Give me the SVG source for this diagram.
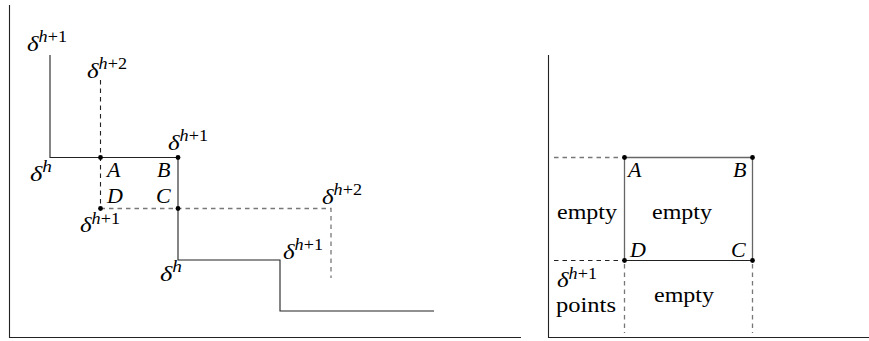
<svg xmlns="http://www.w3.org/2000/svg" width="869" height="341" viewBox="0 0 869 341">
<style>
text{font-family:"Liberation Serif","DejaVu Serif",serif;font-size:22px;fill:#000}
.i{font-style:italic}
.s{font-size:16px}
.si{font-size:16px;font-style:italic}
.ln{stroke:#222;stroke-width:1.1;fill:none}
.g{stroke:#666;stroke-width:1.3;fill:none}
.d{stroke:#222;stroke-width:1.1;stroke-dasharray:4.5,4;fill:none}
.dg{stroke:#777;stroke-width:1.3;stroke-dasharray:4.5,4;fill:none}
.ax{stroke:#222;stroke-width:1.1;fill:none}
</style>
<defs>
<circle id="dot" r="2.4" fill="#000"/>
</defs>
<rect width="869" height="341" fill="#fff"/>
<g id="connectors">
<path class="ax" d="M9.5,5 V337.5 H521"/>
<path class="ln" d="M50,55 V157.5 H178 V260 H280 V311 H434"/>
<path class="d" d="M100.5,80 V208.5"/>
<path class="dg" d="M100.5,208.5 H331 V278"/>
<path class="ax" d="M548.5,55 V337.5 H869"/>
<path class="dg" d="M554,157.5 H624"/>
<path class="d" d="M554,260.5 H624"/>
<path class="g" d="M624.5,260.5 V157.5 H752.5 V260.5"/>
<path class="ln" d="M624.5,260.5 H752.5"/>
<path class="dg" d="M624.5,264 V333"/>
<path class="dg" d="M752.5,264 V333"/>
</g>
<g id="node-A-left"><use href="#dot" x="100.5" y="157.5"/><text class="i" x="107" y="177">A</text></g>
<g id="node-B-left"><use href="#dot" x="178" y="157.5"/><text class="i" x="157" y="177">B</text></g>
<g id="node-C-left"><use href="#dot" x="178" y="208.5"/><text class="i" x="156" y="203">C</text></g>
<g id="node-D-left"><use href="#dot" x="100.5" y="208.5"/><text class="i" x="107" y="203">D</text></g>
<g id="labels-left">
<text x="27" y="51" textLength="40" lengthAdjust="spacingAndGlyphs"><tspan class="i">δ</tspan><tspan class="si" dy="-9">h</tspan><tspan class="s">+1</tspan></text>
<text x="87" y="78" textLength="40" lengthAdjust="spacingAndGlyphs"><tspan class="i">δ</tspan><tspan class="si" dy="-9">h</tspan><tspan class="s">+2</tspan></text>
<text x="30" y="181" textLength="22" lengthAdjust="spacingAndGlyphs"><tspan class="i">δ</tspan><tspan class="si" dy="-9">h</tspan></text>
<text x="168" y="150" textLength="40" lengthAdjust="spacingAndGlyphs"><tspan class="i">δ</tspan><tspan class="si" dy="-9">h</tspan><tspan class="s">+1</tspan></text>
<text x="80" y="232" textLength="40" lengthAdjust="spacingAndGlyphs"><tspan class="i">δ</tspan><tspan class="si" dy="-8">h</tspan><tspan class="s">+1</tspan></text>
<text x="322" y="204" textLength="40" lengthAdjust="spacingAndGlyphs"><tspan class="i">δ</tspan><tspan class="si" dy="-9">h</tspan><tspan class="s">+2</tspan></text>
<text x="283" y="259" textLength="40" lengthAdjust="spacingAndGlyphs"><tspan class="i">δ</tspan><tspan class="si" dy="-9">h</tspan><tspan class="s">+1</tspan></text>
<text x="160" y="281" textLength="22" lengthAdjust="spacingAndGlyphs"><tspan class="i">δ</tspan><tspan class="si" dy="-9">h</tspan></text>
</g>
<g id="node-A-right"><use href="#dot" x="624.5" y="157.5"/><text class="i" x="628" y="177">A</text></g>
<g id="node-B-right"><use href="#dot" x="752.5" y="157.5"/><text class="i" x="733" y="177">B</text></g>
<g id="node-C-right"><use href="#dot" x="752.5" y="260.5"/><text class="i" x="731" y="257">C</text></g>
<g id="node-D-right"><use href="#dot" x="624.5" y="260.5"/><text class="i" x="630" y="257">D</text></g>
<g id="labels-right">
<text x="557" y="219" textLength="60" lengthAdjust="spacingAndGlyphs">empty</text>
<text x="652" y="219" textLength="60" lengthAdjust="spacingAndGlyphs">empty</text>
<text x="654" y="302" textLength="60" lengthAdjust="spacingAndGlyphs">empty</text>
<text x="557" y="287" textLength="40" lengthAdjust="spacingAndGlyphs"><tspan class="i">δ</tspan><tspan class="si" dy="-8">h</tspan><tspan class="s">+1</tspan></text>
<text x="556" y="312" font-size="20" style="font-size:20px" textLength="60" lengthAdjust="spacingAndGlyphs">points</text>
</g>
</svg>
